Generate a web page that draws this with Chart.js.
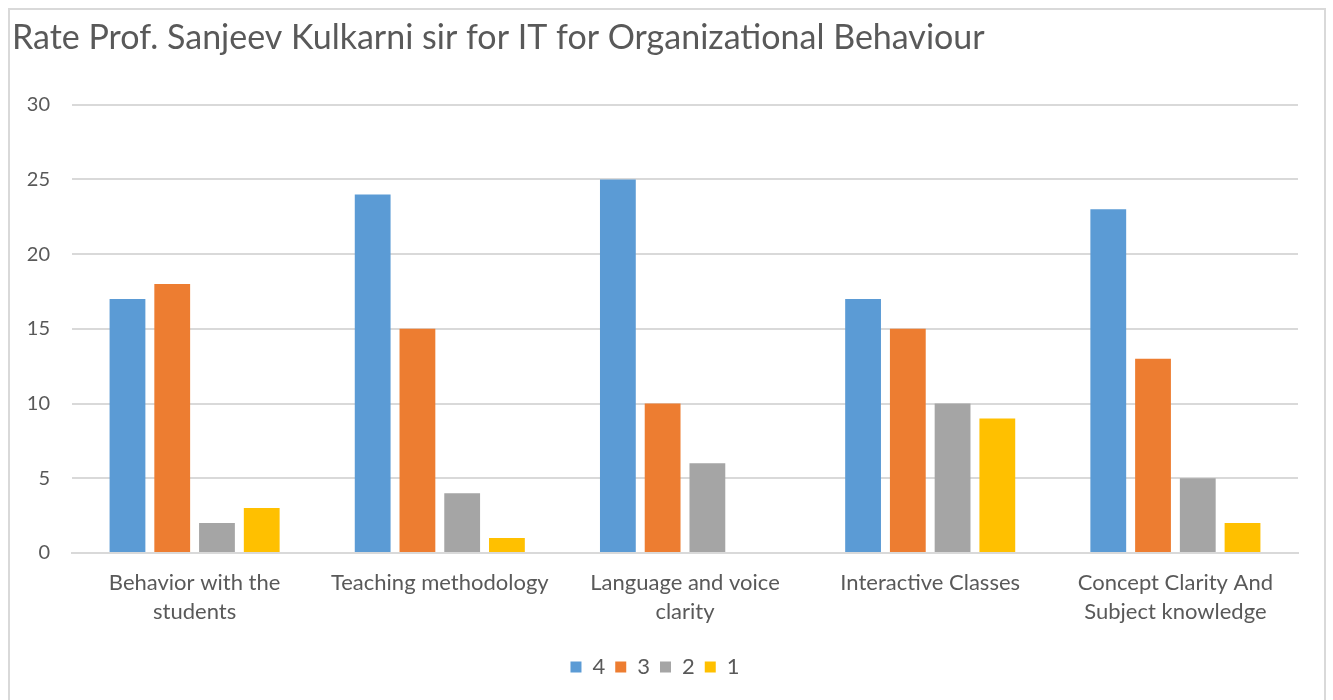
<!DOCTYPE html>
<html lang="en">
<head>
<meta charset="UTF-8">
<title>Rate Prof. Sanjeev Kulkarni sir for IT for Organizational Behaviour</title>
<script src="https://cdn.jsdelivr.net/npm/chart.js@4.4.0/dist/chart.umd.min.js"></script>
<style>
  html, body { margin: 0; padding: 0; background: #fff; }
  body { width: 1333px; height: 700px; position: relative; overflow: hidden; }
  .frame { position: absolute; left: 8px; top: 8px; width: 1318px; height: 700px; border: 2px solid #d9d9d9; box-sizing: border-box; }
  .wrap { position: absolute; left: 0; top: 0; width: 1333px; height: 700px; }
</style>
</head>
<body>
<div class="frame"></div>
<div class="wrap"><canvas id="myChart"></canvas></div>
<script>
// categories (multi-line labels as in the original)
var categories = [
  ["Behavior with the", "students"],
  "Teaching methodology",
  ["Language and voice", "clarity"],
  "Interactive Classes",
  ["Concept Clarity And", "Subject knowledge"]
];
// ratings, one series per score
var rating4 = [17, 24, 25, 17, 23];
var rating3 = [18, 15, 10, 15, 13];
var rating2 = [2, 4, 6, 10, 5];
var rating1 = [3, 1, 0, 9, 2];
var yTicks = [0, 5, 10, 15, 20, 25, 30];

var textColor = '#595959';
var fontFamily = 'Lato, "Open Sans", sans-serif';

function series(label, data, color) {
  return {
    label: label,
    data: data,
    backgroundColor: color,
    borderWidth: 0,
    categoryPercentage: 0.73,
    barPercentage: 0.8
  };
}

var ctx = document.getElementById('myChart').getContext('2d');
var chart = new Chart(ctx, {
  type: 'bar',
  data: {
    labels: categories,
    datasets: [
      series('4', rating4, '#5B9BD5'),
      series('3', rating3, '#ED7D31'),
      series('2', rating2, '#A5A5A5'),
      series('1', rating1, '#FFC000')
    ]
  },
  options: {
    responsive: true,
    maintainAspectRatio: false,
    animation: false,
    layout: { padding: { left: 12, right: 35, top: 18, bottom: 12 } },
    plugins: {
      title: {
        display: true,
        text: 'Rate Prof. Sanjeev Kulkarni sir for IT for Organizational Behaviour',
        align: 'start',
        color: textColor,
        font: { family: fontFamily, size: 34, weight: 'normal' },
        padding: { top: 0, bottom: 46 }
      },
      legend: {
        position: 'bottom',
        labels: {
          color: textColor,
          font: { family: fontFamily, size: 22 },
          boxWidth: 11,
          boxHeight: 11,
          padding: 10
        }
      },
      tooltip: { enabled: false }
    },
    scales: {
      x: {
        afterFit: function (axis) { axis.height += 13; },
        grid: { display: false },
        border: { color: '#d9d9d9', width: 2 },
        ticks: {
          color: textColor,
          font: { family: fontFamily, size: 22, lineHeight: 1.32 },
          maxRotation: 0,
          autoSkip: false,
          padding: 7
        }
      },
      y: {
        min: 0,
        max: 30,
        afterBuildTicks: function (axis) {
          axis.ticks = yTicks.map(function (v) { return { value: v }; });
        },
        afterFit: function (axis) { axis.width = 60; },
        grid: { color: '#d9d9d9', lineWidth: 2, drawTicks: false },
        border: { display: false },
        ticks: {
          color: textColor,
          font: { family: fontFamily, size: 20 },
          padding: 22
        }
      }
    }
  }
});
</script>
</body>
</html>
